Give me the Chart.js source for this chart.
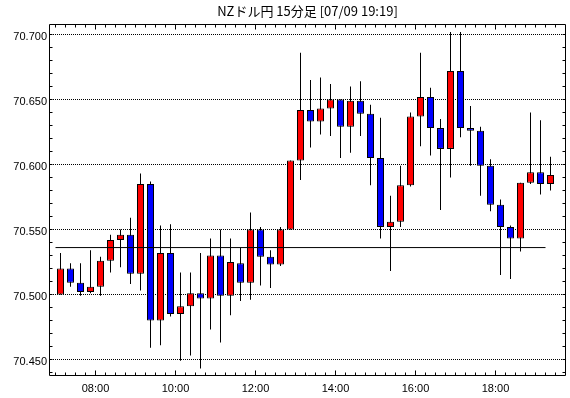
<!DOCTYPE html>
<html>
<head>
<meta charset="utf-8">
<script src="https://cdn.jsdelivr.net/npm/chart.js@4.4.1/dist/chart.umd.min.js"></script>
<style>
  html, body { margin: 0; padding: 0; background: #fff; }
  #wrap { width: 570px; height: 398px; }
</style>
</head>
<body>
<div id="wrap"><canvas id="candles" width="570" height="398"></canvas></div>
<script>
// NZD/JPY, 15 minute candles from 07:00 to 19:15
const startHour = 7;

const opens = [
  70.500, 70.520, 70.509, 70.502, 70.506, 70.526, 70.542, 70.546, 70.516, 70.585,
  70.480, 70.532, 70.485, 70.491, 70.501, 70.497, 70.530, 70.499, 70.524, 70.509,
  70.550, 70.529, 70.523, 70.550, 70.603, 70.642, 70.633, 70.643, 70.650, 70.629,
  70.649, 70.639, 70.605, 70.552, 70.556, 70.584, 70.637, 70.652, 70.628, 70.612,
  70.672, 70.628, 70.626, 70.599, 70.569, 70.552, 70.543, 70.586, 70.594, 70.585
];
const highs = [
  70.532, 70.524, 70.524, 70.534, 70.529, 70.546, 70.550, 70.559, 70.593, 70.587,
  70.553, 70.554, 70.517, 70.517, 70.532, 70.543, 70.550, 70.543, 70.536, 70.563,
  70.552, 70.534, 70.552, 70.603, 70.686, 70.665, 70.667, 70.662, 70.650, 70.660,
  70.664, 70.646, 70.636, 70.576, 70.599, 70.640, 70.686, 70.659, 70.635, 70.702,
  70.702, 70.645, 70.629, 70.604, 70.573, 70.553, 70.586, 70.640, 70.634, 70.606
];
const lows = [
  70.500, 70.506, 70.499, 70.501, 70.499, 70.517, 70.521, 70.508, 70.503, 70.459,
  70.461, 70.483, 70.449, 70.453, 70.443, 70.473, 70.463, 70.484, 70.495, 70.496,
  70.507, 70.505, 70.522, 70.550, 70.588, 70.613, 70.623, 70.622, 70.605, 70.609,
  70.622, 70.584, 70.543, 70.518, 70.552, 70.583, 70.614, 70.607, 70.565, 70.590,
  70.621, 70.599, 70.576, 70.564, 70.515, 70.512, 70.533, 70.585, 70.577, 70.580
];
const closes = [
  70.520, 70.509, 70.502, 70.506, 70.526, 70.542, 70.546, 70.516, 70.585, 70.480,
  70.532, 70.485, 70.491, 70.501, 70.497, 70.530, 70.499, 70.525, 70.509, 70.550,
  70.529, 70.523, 70.550, 70.603, 70.642, 70.633, 70.643, 70.650, 70.629, 70.649,
  70.639, 70.605, 70.552, 70.556, 70.584, 70.637, 70.652, 70.628, 70.612, 70.672,
  70.628, 70.626, 70.599, 70.569, 70.552, 70.543, 70.586, 70.594, 70.585, 70.592
];

// reference level drawn across the chart
const baseLevel = 70.5361;

const yTicks = [70.45, 70.50, 70.55, 70.60, 70.65, 70.70];
const timeLabels = ['08:00', '10:00', '12:00', '14:00', '16:00', '18:00'];

const UP = '#ff0000';
const DOWN = '#0000ff';
const FONT = '"Liberation Sans", Arial, sans-serif';

// one slot per 15 minutes, counted from startHour
const slotOf = (t) => (parseInt(t, 10) - startHour) * 4;
const labelSlots = timeLabels.map(slotOf);

// inward tick marks and the black frame
const frameTicks = {
  id: 'frameTicks',
  afterDraw(chart) {
    const { ctx, chartArea: a, scales: { x, y } } = chart;
    const left = a.left + 0.5, right = a.right - 0.5;
    const top = a.top + 0.5, bottom = a.bottom - 0.5;
    ctx.save();
    ctx.strokeStyle = '#000';
    ctx.lineWidth = 1;
    ctx.beginPath();
    for (let s = 0; s <= opens.length; s++) {
      const px = Math.floor(x.getPixelForValue(s)) + 0.5;
      const len = labelSlots.includes(s) ? 5 : 3;
      ctx.moveTo(px, top); ctx.lineTo(px, top + len);
      ctx.moveTo(px, bottom); ctx.lineTo(px, bottom - len);
    }
    for (let k = 7044; k <= 7070; k++) {
      const py = Math.floor(y.getPixelForValue(k / 100)) + 0.5;
      if (py < top || py > bottom) continue;
      ctx.moveTo(left, py); ctx.lineTo(left + 3, py);
      ctx.moveTo(right, py); ctx.lineTo(right - 3, py);
    }
    ctx.rect(left, top, right - left, bottom - top);
    ctx.stroke();
    ctx.restore();
  }
};

new Chart(document.getElementById('candles'), {
  type: 'bar',
  data: {
    datasets: [
      {
        type: 'line',
        data: [{ x: 0, y: baseLevel }, { x: opens.length - 1, y: baseLevel }],
        borderColor: '#000',
        borderWidth: 1,
        pointRadius: 0,
        order: 0
      },
      {
        data: opens.map((o, i) => ({ x: i + 0.5, y: [o, closes[i]] })),
        backgroundColor: opens.map((o, i) => (closes[i] >= o ? UP : DOWN)),
        borderColor: '#000',
        borderWidth: 1,
        borderSkipped: false,
        barThickness: 7,
        inflateAmount: 0,
        grouped: false,
        order: 1
      },
      {
        data: highs.map((h, i) => ({ x: i + 0.5, y: [lows[i], h] })),
        backgroundColor: '#000',
        borderWidth: 0,
        barThickness: 1,
        inflateAmount: 0,
        grouped: false,
        order: 2
      }
    ]
  },
  options: {
    responsive: false,
    animation: false,
    layout: { padding: { left: 0, right: 4, top: 0, bottom: 0 } },
    plugins: {
      legend: { display: false },
      tooltip: { enabled: false },
      title: {
        display: true,
        fullSize: false,
        text: 'NZドル円 15分足 [07/09 19:19]',
        color: '#000',
        font: { family: '"Noto Sans CJK JP", sans-serif', size: 13, weight: 'normal', lineHeight: '14px' },
        padding: { top: 4, bottom: 6 }
      }
    },
    scales: {
      x: {
        type: 'linear',
        offset: false,
        min: -0.65,
        max: 51.05,
        grid: { display: false, drawTicks: false },
        border: { display: false },
        afterBuildTicks: (s) => { s.ticks = labelSlots.map((v) => ({ value: v })); },
        afterFit: (s) => { s.height = 22; },
        ticks: {
          autoSkip: false,
          maxRotation: 0,
          padding: 6,
          color: '#000',
          font: { family: FONT, size: 11 },
          callback: (v, i) => timeLabels[i]
        }
      },
      y: {
        min: 70.45 - 16.5 / 1300,
        max: 70.70 + 10.5 / 1300,
        grid: { color: '#000', lineWidth: 1, drawTicks: false },
        border: { display: false, dash: [1, 1] },
        afterBuildTicks: (s) => { s.ticks = yTicks.map((v) => ({ value: v })); },
        afterFit: (s) => { s.width = 49; },
        ticks: {
          padding: 2,
          labelOffset: 2,
          color: '#000',
          font: { family: FONT, size: 11 },
          callback: (v) => v.toFixed(3)
        }
      }
    }
  },
  plugins: [frameTicks]
});
</script>
</body>
</html>
